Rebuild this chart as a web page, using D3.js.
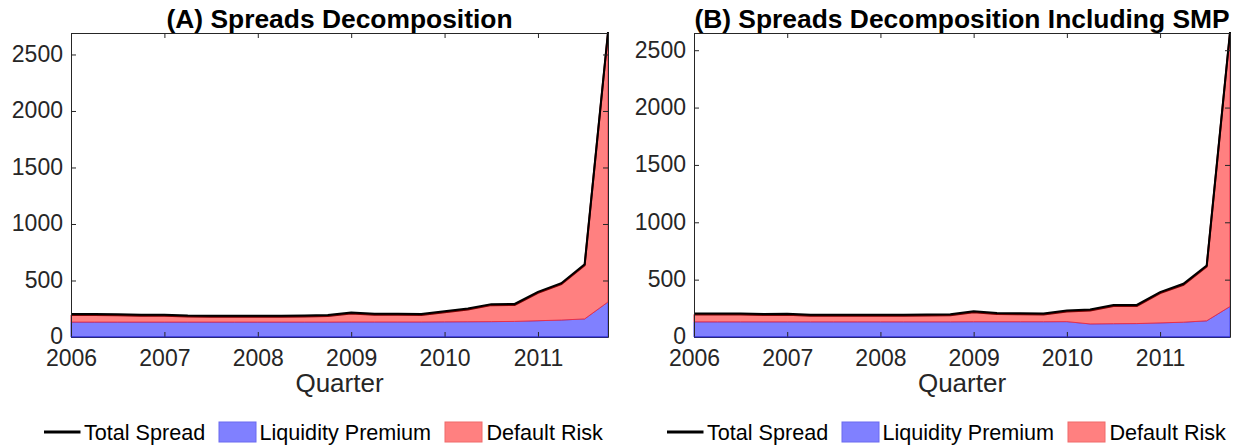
<!DOCTYPE html>
<html><head><meta charset="utf-8">
<script src="https://cdn.jsdelivr.net/npm/d3@7"></script>
<style>
html,body{margin:0;padding:0;background:#fff;}
svg{display:block;font-family:"Liberation Sans",Arial,Helvetica,sans-serif;}
</style></head><body>
<svg id="c" width="1235" height="447"></svg>
<script>
// Quarters 2006Q1 .. 2011Q4
const quarters = d3.range(24).map(i => 2006 + i * 0.25);
const yearTicks = [2006, 2007, 2008, 2009, 2010, 2011];
const yTicks = [0, 500, 1000, 1500, 2000, 2500];
const titles = ["(A) Spreads Decomposition", "(B) Spreads Decomposition Including SMP"];
const legendLabels = ["Total Spread", "Liquidity Premium", "Default Risk"];
const xLabel = "Quarter";

// Panel A
const totalA = [195,195,192,187, 189,181,180,180, 180,180,181,185, 208,196,197,194, 219,244,282,284, 391,467,634,2690];
const liqA   = [132,132,132,132, 132,132,132,132, 132,132,132,132, 133,133,133,133, 134,135,136,138, 144,150,160,310];
// Panel B
const totalB = [197,197,197,191, 193,186,186,186, 186,186,187,189, 216,200,198,196, 223,231,270,271, 383,455,614,2650];
const liqB   = [132,132,132,132, 132,132,132,132, 132,132,132,132, 133,133,133,133, 134,114,116,117, 123,129,141,266];

const yMax = [2690, 2650];

const svg = d3.select("#c");
const panels = [
  {left:71, right:608, total: totalA, liq: liqA, title: titles[0], ymax: yMax[0]},
  {left:694, right:1230, total: totalB, liq: liqB, title: titles[1], ymax: yMax[1]}
];
const plotTop = 33, plotBottom = 337;
const axisColor = "#262626";

panels.forEach(p => {
  const g = svg.append("g");
  const x = d3.scaleLinear().domain([2006, 2011.75]).range([p.left, p.right]);
  const y = d3.scaleLinear().domain([0, p.ymax]).range([plotBottom, plotTop]);
  const rows = quarters.map((q, i) => ({q, total: p.total[i], liq: p.liq[i]}));

  const liqArea = d3.area().x(d => x(d.q)).y0(y(0)).y1(d => y(d.liq));
  const defArea = d3.area().x(d => x(d.q)).y0(d => y(d.liq)).y1(d => y(d.total));
  const line = d3.line().x(d => x(d.q)).y(d => y(d.total));

  g.append("path").datum(rows).attr("d", liqArea)
    .attr("fill", "#8080ff").attr("stroke", "#4646ee").attr("stroke-width", 1);
  g.append("path").datum(rows).attr("d", defArea)
    .attr("fill", "#ff8080").attr("stroke", "#e8304a").attr("stroke-width", 1);
  g.append("path").datum(rows).attr("d", line)
    .attr("fill", "none").attr("stroke", "#7a0000").attr("stroke-width", 2);
  g.append("path").datum(rows).attr("d", line)
    .attr("fill", "none").attr("stroke", "#000").attr("stroke-width", 2)
    .attr("transform", "translate(0,-1)");

  const fs = 23;
  const ax = g.append("g").attr("transform", `translate(0,${plotBottom})`)
    .call(d3.axisBottom(x).tickValues(yearTicks).tickFormat(d3.format("d")).tickSizeInner(-5).tickSizeOuter(0));
  ax.selectAll("text").attr("dy", null).attr("y", 29).attr("font-size", fs).attr("fill", axisColor);
  const axT = g.append("g").attr("transform", `translate(0,${plotTop})`)
    .call(d3.axisTop(x).tickValues(yearTicks).tickFormat("").tickSizeInner(-5).tickSizeOuter(0));
  const ay = g.append("g").attr("transform", `translate(${p.left},0)`)
    .call(d3.axisLeft(y).tickValues(yTicks).tickFormat(d3.format("d")).tickSizeInner(-5).tickSizeOuter(0));
  ay.selectAll("text").attr("x", -8).attr("dy", "0.3em").attr("font-size", fs).attr("fill", axisColor);
  const ayR = g.append("g").attr("transform", `translate(${p.right},0)`)
    .call(d3.axisRight(y).tickValues(yTicks).tickFormat("").tickSizeInner(-5).tickSizeOuter(0));
  [ax, axT, ay, ayR].forEach(a => {
    a.selectAll(".domain").attr("stroke", axisColor);
    a.selectAll(".tick line").attr("stroke", axisColor);
    a.attr("font-family", null);
  });
  g.append("line").attr("x1", p.left).attr("x2", p.right).attr("y1", y(0)).attr("y2", y(0))
    .attr("stroke", "#2a2ad0").attr("stroke-width", 1.2);

  const cx = (p.left + p.right) / 2;
  g.append("text").attr("x", cx).attr("y", 28).attr("text-anchor", "middle")
    .attr("font-weight", "bold").attr("font-size", 26.4).attr("fill", "#000").text(p.title);
  g.append("text").attr("x", cx).attr("y", 392).attr("text-anchor", "middle")
    .attr("font-size", 26).attr("fill", axisColor).text(xLabel);

  const lg = g.append("g").attr("transform", `translate(${p.left},432)`);
  const lfs = 21.6;
  lg.append("line").attr("x1", -27).attr("x2", 9.5).attr("y1", 0).attr("y2", 0).attr("stroke", "#000").attr("stroke-width", 3);
  lg.append("text").attr("x", 13).attr("y", 7.5).attr("font-size", lfs).attr("fill", "#000").text(legendLabels[0]);
  lg.append("rect").attr("x", 148).attr("y", -10).attr("width", 37).attr("height", 20)
    .attr("fill", "#8080ff").attr("stroke", "#6a6af0");
  lg.append("text").attr("x", 188.5).attr("y", 7.5).attr("font-size", lfs).attr("fill", "#000").text(legendLabels[1]);
  lg.append("rect").attr("x", 374).attr("y", -10).attr("width", 37).attr("height", 20)
    .attr("fill", "#ff8080").attr("stroke", "#f06a6a");
  lg.append("text").attr("x", 415.5).attr("y", 7.5).attr("font-size", lfs).attr("fill", "#000").text(legendLabels[2]);
});
</script>
</body></html>
